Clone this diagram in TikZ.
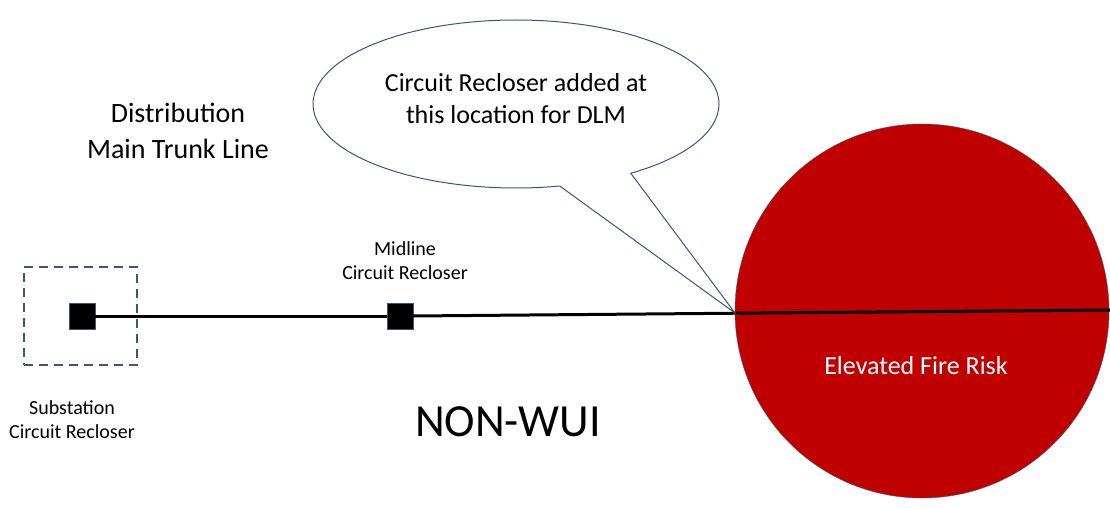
\documentclass[tikz,border=0pt]{standalone}
\usepackage{fontspec}
\setmainfont{Carlito}
\usetikzlibrary{shapes.callouts}

\definecolor{riskred}{RGB}{192,0,0}
\definecolor{edgeblue}{RGB}{68,84,106}

\begin{document}
\begin{tikzpicture}[x=1pt, y=-1pt,
  every node/.style={outer sep=0pt},
  recloser/.style={draw=edgeblue, fill=black, minimum size=26pt, inner sep=0pt},
  lbl/.style={align=center, font=\fontsize{20}{24}\selectfont}]
\useasboundingbox (0,0) rectangle (1110,508);

% fire risk zone
\node[circle, draw=edgeblue, fill=riskred, minimum size=374pt] (risk) at (922,311) {};
\node[text=white, font=\fontsize{26}{30}\selectfont] (risktext) at (916,366) {Elevated Fire Risk};

% substation
\node[draw=edgeblue, line width=2pt, dash pattern=on 9pt off 6pt, minimum width=113pt, minimum height=98pt] (subbox) at (80,316) {};
\node[recloser] (sub) at (82,316) {};
\node[recloser] (mid) at (400,316) {};
\coordinate (lineend) at (1110,310);
\coordinate (tip) at (735,313);

\draw[line width=3pt] (sub.east) -- (mid.west);
\draw[line width=3pt] (mid.east) -- (lineend);

\node[lbl] (sublbl) at (72,420) {Substation\\Circuit Recloser};
\node[lbl] (midlbl) at (405,261) {Midline\\Circuit Recloser};

\node[align=center, font=\fontsize{28}{36}\selectfont] (trunk) at (178,131) {Distribution\\Main Trunk Line};
\node[font=\fontsize{46}{50}\selectfont] (wui) at (508,422) {NON-WUI};

% callout
\node[ellipse callout, draw=edgeblue, line width=1pt, fill=white, minimum width=406pt, minimum height=168pt,
  callout absolute pointer=(tip), callout pointer arc=22] (note) at (516,104) {};
\node[align=center, font=\fontsize{26}{32}\selectfont] (notetext) at (516,99) {Circuit Recloser added at\\this location for DLM};
\end{tikzpicture}
\end{document}
